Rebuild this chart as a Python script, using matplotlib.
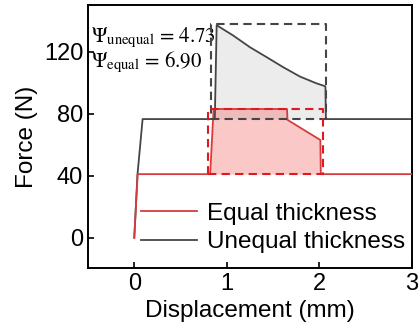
import numpy as np
import matplotlib
matplotlib.use("Agg")
import matplotlib.pyplot as plt

plt.rcParams['font.family'] = ['Liberation Sans', 'DejaVu Sans']
plt.rcParams['mathtext.fontset'] = 'stix'

# force-displacement curves (mm, N)
eq_x = [0.0, 0.036, 0.82, 0.857, 1.65, 1.655, 2.01, 2.015, 3.0]
eq_y = [0.0, 41.0, 41.0, 83.0, 83.0, 76.0, 63.0, 41.0, 41.0]

uneq_x = [0.0, 0.035, 0.09, 0.87, 0.89, 1.07, 1.25, 1.43, 1.61, 1.79, 1.965, 2.065, 2.07, 3.0]
uneq_y = [0.0, 41.0, 76.5, 76.5, 137.0, 130.3, 122.8, 116.4, 109.9, 103.9, 99.6, 97.6, 76.5, 76.5]

# energy regions: fill limits and dashed boxes
eq_fill_x = [0.82, 0.857, 1.65, 1.655, 2.01]
eq_fill_y = [41.0, 83.0, 83.0, 76.0, 63.0]
uneq_fill_x = [0.87, 0.89, 1.07, 1.25, 1.43, 1.61, 1.79, 1.965, 2.065]
uneq_fill_y = [76.5, 137.0, 130.3, 122.8, 116.4, 109.9, 103.9, 99.6, 97.6]
eq_box = (0.80, 2.04, 41.0, 83.0)
uneq_box = (0.83, 2.07, 76.5, 137.5)

psi_unequal = 4.73
psi_equal = 6.90

red = '#d63c3f'
box_red = '#e0191f'
gray = '#454545'

fig = plt.figure(figsize=(4.18, 3.36), dpi=100)
ax = fig.add_axes([0.2105, 0.2024, 0.7751, 0.7826])

ax.fill_between(uneq_fill_x, 76.5, uneq_fill_y, color='#ececec', lw=0, zorder=1)
ax.fill_between(eq_fill_x, 41.0, eq_fill_y, color='#f44b4b', alpha=0.3, lw=0, zorder=1)

ax.plot(eq_x, eq_y, color=red, lw=1.3, label='Equal thickness', zorder=3)
ax.plot(uneq_x, uneq_y, color=gray, lw=1.3, label='Unequal thickness', zorder=2)

def dashed_box(b, c):
    x0, x1, y0, y1 = b
    ax.plot([x0, x1, x1, x0, x0], [y0, y0, y1, y1, y0], color=c, lw=1.5,
            ls=(0, (4, 2.5)), zorder=4)

dashed_box(uneq_box, gray)
dashed_box(eq_box, box_red)

ax.text(-0.47, 126, r'$\Psi_{\rm unequal}$ = %.2f' % psi_unequal, fontsize=15,
        family='STIXGeneral', va='baseline', ha='left')
ax.text(-0.47, 110, r'$\Psi_{\rm equal}$ = %.2f' % psi_equal, fontsize=15,
        family='STIXGeneral', va='baseline', ha='left')

ax.set_xlim(-0.5, 3)
ax.set_ylim(-19.5, 150)
ax.set_xticks([0, 1, 2, 3])
ax.set_yticks([0, 40, 80, 120])
ax.tick_params(labelsize=17, width=1.2, length=4.5, direction='in')
for s in ax.spines.values():
    s.set_linewidth(1.4)
ax.set_xlabel('Displacement (mm)', fontsize=17.5, labelpad=4)
ax.set_ylabel('Force (N)', fontsize=17.5, labelpad=4)

ax.legend(loc='lower left', bbox_to_anchor=(0.12, 0.0), frameon=False, fontsize=17.5,
          handlelength=2.3, handletextpad=0.4, labelspacing=0.28, borderaxespad=0.2)

fig.savefig('out.png', dpi=100)
